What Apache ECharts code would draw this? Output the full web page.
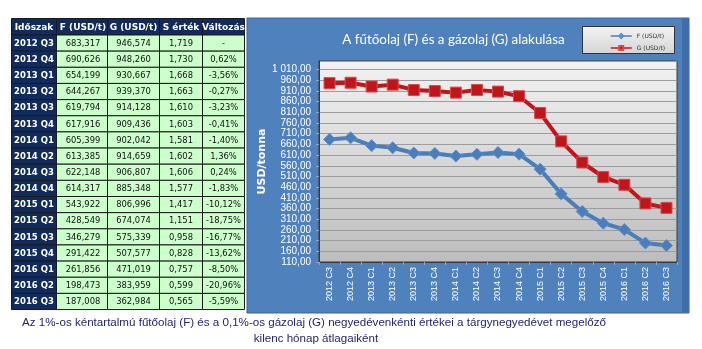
<!DOCTYPE html>
<html><head><meta charset="utf-8">
<script src="https://cdn.jsdelivr.net/npm/echarts@6/dist/echarts.min.js"></script>
<style>html,body{margin:0;padding:0;background:#fff}#c{width:702px;height:349px}</style>
</head><body><div id="c"></div>
<script>
var periods = ['2012 Q3','2012 Q4','2013 Q1','2013 Q2','2013 Q3','2013 Q4','2014 Q1','2014 Q2','2014 Q3','2014 Q4','2015 Q1','2015 Q2','2015 Q3','2015 Q4','2016 Q1','2016 Q2','2016 Q3'];
var axisCats = ['2012 C3','2012 C4','2013 C1','2013 C2','2013 C3','2013 C4','2014 C1','2014 C2','2014 C3','2014 C4','2015 C1','2015 C2','2015 C3','2015 C4','2016 C1','2016 C2','2016 C3'];
var fValues = [683.317,690.626,654.199,644.267,619.794,617.916,605.399,613.385,622.148,614.317,543.922,428.549,346.279,291.422,261.856,198.473,187.008];
var gValues = [946.574,948.260,930.667,939.370,914.128,909.436,902.042,914.659,906.807,885.348,806.996,674.074,575.339,507.577,471.019,383.959,362.984];
var sValues = ['1,719','1,730','1,668','1,663','1,610','1,603','1,581','1,602','1,606','1,577','1,417','1,151','0,958','0,828','0,757','0,599','0,565'];
var changes = ['-','0,62%','-3,56%','-0,27%','-3,23%','-0,41%','-1,40%','1,36%','0,24%','-1,83%','-10,12%','-18,75%','-16,77%','-13,62%','-8,50%','-20,96%','-5,59%'];
var headers = ['Időszak','F (USD/t)','G (USD/t)','S érték','Változás'];
var yTickMin = 110, yTickStep = 50, yMax = 1050;
var titleText = 'A fűtőolaj (F) és a gázolaj (G) alakulása';
var yName = 'USD/tonna';
var caption1 = 'Az 1%-os kéntartalmú fűtőolaj (F) és a 0,1%-os gázolaj (G) negyedévenkénti értékei a tárgynegyedévet megelőző';
var caption2 = 'kilenc hónap átlagaiként';

function fmt3(v){ return v.toFixed(3).replace('.', ','); }
function fmtAxis(v){
  var s = v.toFixed(2).split('.');
  var i = s[0].replace(/\B(?=(\d{3})+(?!\d))/g, ' ');
  return i + ',' + s[1];
}

var colX = [11.5, 56.5, 107.5, 159.5, 202.5, 244.5];
var navy = '#112c5c', green = '#ccffcc', lineC = '#1a1a1a';
var els = [];
els.push({type:'rect', z:-20, shape:{x:247, y:18, width:442, height:295}, style:{fill:'#4f81bd', stroke:'#3b6598', lineWidth:1}});
els.push({type:'rect', z:-19, shape:{x:682, y:18.5, width:7, height:294}, style:{fill:'#3f6ea8'}});
els.push({type:'rect', z:-18, shape:{x:319, y:61, width:358, height:201},
  style:{fill:new echarts.graphic.LinearGradient(0,0,0,1,[{offset:0,color:'#f2f2f2'},{offset:1,color:'#bdbdbd'}])}});
els.push({type:'rect', z:-17, shape:{x:582.5, y:26.5, width:92, height:27},
  style:{fill:new echarts.graphic.LinearGradient(0,0,0,1,[{offset:0,color:'#f4f4f4'},{offset:1,color:'#d4d4d4'}]), stroke:'#333', lineWidth:1}});
function rowTop(r){ return r===0 ? 18.5 : 35 + (r-1)*16.15; }
function rowH(r){ return r===0 ? 16.5 : 16.15; }
for (var r=0; r<=periods.length; r++){
  for (var c=0; c<5; c++){
    var x = colX[c], w = colX[c+1]-colX[c], y = rowTop(r), h = rowH(r);
    var isDark = (r===0 || c===0);
    var txt;
    if (r===0) txt = headers[c];
    else if (c===0) txt = periods[r-1];
    else if (c===1) txt = fmt3(fValues[r-1]);
    else if (c===2) txt = fmt3(gValues[r-1]);
    else if (c===3) txt = sValues[r-1];
    else txt = changes[r-1];
    els.push({type:'rect', z:-10, shape:{x:x, y:y, width:w, height:h}, style:{fill:isDark?navy:green, stroke:lineC, lineWidth:1}});
    els.push({type:'text', z:-9, x:x + w/2 + (c===1?1:0), y:y + h/2 + 0.5, style:{text:txt, align:'center', verticalAlign:'middle',
      fill:isDark?'#ffffff':'#111111',
      font:(isDark?'bold ':'') + (r===0?'9px':(c===0?'8.5px':'8.4px')) + ' "DejaVu Sans", sans-serif'}});
  }
}
els.push({type:'text', x:314, y:323, style:{text:caption1, align:'center', verticalAlign:'middle', fill:'#1f1f6e', font:'11.6px "Liberation Sans", sans-serif'}});
els.push({type:'text', x:316, y:339, style:{text:caption2, align:'center', verticalAlign:'middle', fill:'#1f1f6e', font:'11.6px "Liberation Sans", sans-serif'}});
els.push({type:'text', x:453.5, y:40, style:{text:titleText, align:'center', verticalAlign:'middle', fill:'#ffffff', font:'13.4px Lato, sans-serif'}});

var chart = echarts.init(document.getElementById('c'), null, {renderer:'canvas'});
chart.setOption({
  animation:false,
  backgroundColor:'#ffffff',
  graphic:{elements:els},
  legend:{
    orient:'vertical', left:605, top:28, itemWidth:21, itemHeight:5, itemGap:6,
    textStyle:{fontSize:6, color:'#333', fontFamily:'DejaVu Sans'},
    lineStyle:{width:1.5},
    data:['F (USD/t)','G (USD/t)']
  },
  grid:{left:319, top:61, width:358, height:201, show:true, borderColor:'#3a3a3a', borderWidth:1, backgroundColor:'transparent'},
  xAxis:{
    type:'category', data:axisCats, boundaryGap:true,
    axisLine:{lineStyle:{color:'#3a3a3a', width:1}},
    axisTick:{show:true, length:3, lineStyle:{color:'#8fa9cf'}},
    axisLabel:{rotate:90, color:'#ffffff', fontSize:9, margin:5, fontFamily:'Liberation Sans'}
  },
  yAxis:{
    type:'value', min:yTickMin, max:yMax, interval:yTickStep,
    name:yName, nameLocation:'middle', nameGap:51, nameRotate:90, nameMoveOverlap:false,
    nameTextStyle:{color:'#ffffff', fontWeight:'bold', fontSize:11, fontFamily:'DejaVu Sans'},
    axisLine:{show:true, lineStyle:{color:'#3a3a3a'}},
    axisTick:{show:true, length:3, lineStyle:{color:'#8fa9cf'}},
    axisLabel:{color:'#ffffff', fontSize:10, margin:8, showMaxLabel:false, fontFamily:'Liberation Sans', formatter:function(v){return fmtAxis(v);}},
    splitLine:{show:true, lineStyle:{color:'#9c9c9c', width:1}}
  },
  series:[
    {name:'F (USD/t)', type:'line', data:fValues, symbol:'diamond', symbolSize:12,
      lineStyle:{color:'#4a7ebb', width:4}, itemStyle:{color:'#4a7ebb', borderColor:'#5b8fd0', borderWidth:1}},
    {name:'G (USD/t)', type:'line', data:gValues, symbol:'rect', symbolSize:11,
      lineStyle:{color:'#c0161b', width:4}, itemStyle:{color:'#c0161b', borderColor:'#d84a4a', borderWidth:1}}
  ]
});
</script></body></html>
